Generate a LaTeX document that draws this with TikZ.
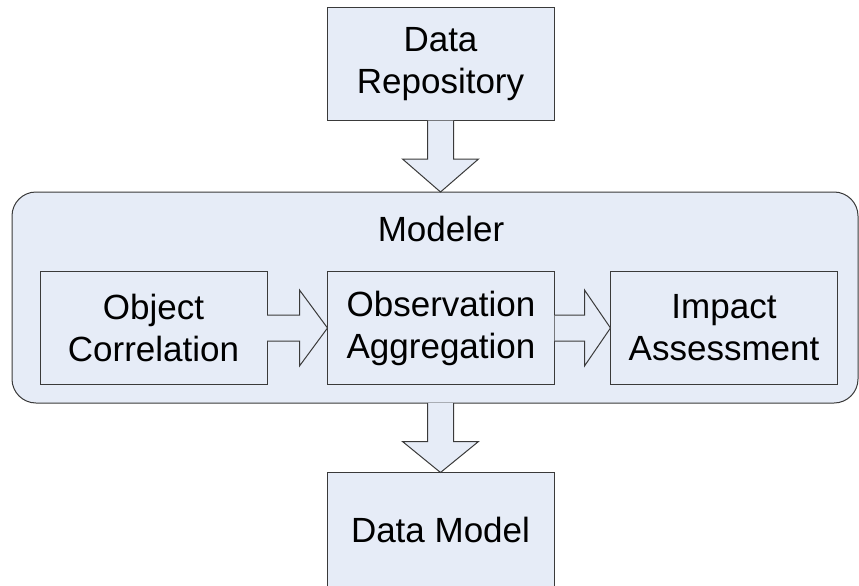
\documentclass[tikz,border=0pt]{standalone}
\usepackage{fontspec}
\setmainfont{Liberation Sans}
\usetikzlibrary{calc}
\definecolor{boxfill}{HTML}{E6ECF7}
\definecolor{boxline}{HTML}{3A3A3A}
\begin{document}
\begin{tikzpicture}[x=1pt,y=-1pt,
  box/.style={draw=boxline,fill=boxfill,line width=1pt,inner sep=0pt,outer sep=0pt,
    minimum width=227pt,minimum height=113pt,align=center,
    font=\fontsize{35}{42}\selectfont},
  group/.style={draw=boxline,fill=boxfill,line width=1pt,rounded corners=24pt,
    inner sep=0pt,outer sep=0pt,minimum width=846pt,minimum height=211pt},
  label/.style={inner sep=0pt,font=\fontsize{35}{42}\selectfont},
  barrow/.style={draw=boxline,fill=boxfill,line width=1pt,line join=miter}]
\clip (0,0) rectangle (859,586);
\node[group] (modeler) at (435,297.5) {};
\node[label] (modelerlabel) at (441,229) {Modeler};
\node[box] (repo) at (440.5,64) {Data\\Repository};
\node[box] (oc) at (153.5,328) {Object\\Correlation};
\node[box] (oa) at (441,328) {Observation\\Aggregation};
\node[box] (ia) at (724,328) {Impact\\Assessment};
\node[box,minimum height=115pt] (dm) at (440.5,530) {Data Model};
% down arrow repo -> modeler
\draw[barrow] let \p1=(repo.south), \p2=(modeler.north) in
  (\x1-13pt,\y1) -- (\x1-13pt,\y2+33pt) -- (\x1-38pt,\y2+33pt) -- (\x1,\y2)
  -- (\x1+38pt,\y2+33pt) -- (\x1+13pt,\y2+33pt) -- (\x1+13pt,\y1);
% down arrow modeler -> data model
\draw[barrow] let \p1=(dm.north), \p2=(modeler.south) in
  (\x1-13pt,\y2) -- (\x1-13pt,\y1+31pt) -- (\x1-38pt,\y1+31pt) -- (\x1,\y1)
  -- (\x1+38pt,\y1+31pt) -- (\x1+13pt,\y1+31pt) -- (\x1+13pt,\y2);
% right arrow oc -> oa
\draw[barrow] let \p1=(oc.east), \p2=(oa.west) in
  (\x1,\y1+13pt) -- (\x2-28pt,\y1+13pt) -- (\x2-28pt,\y1+38pt) -- (\x2,\y1)
  -- (\x2-28pt,\y1-38pt) -- (\x2-28pt,\y1-13pt) -- (\x1,\y1-13pt);
% right arrow oa -> ia
\draw[barrow] let \p1=(oa.east), \p2=(ia.west) in
  (\x1,\y1+13pt) -- (\x2-26pt,\y1+13pt) -- (\x2-26pt,\y1+38pt) -- (\x2,\y1)
  -- (\x2-26pt,\y1-38pt) -- (\x2-26pt,\y1-13pt) -- (\x1,\y1-13pt);
\end{tikzpicture}
\end{document}
